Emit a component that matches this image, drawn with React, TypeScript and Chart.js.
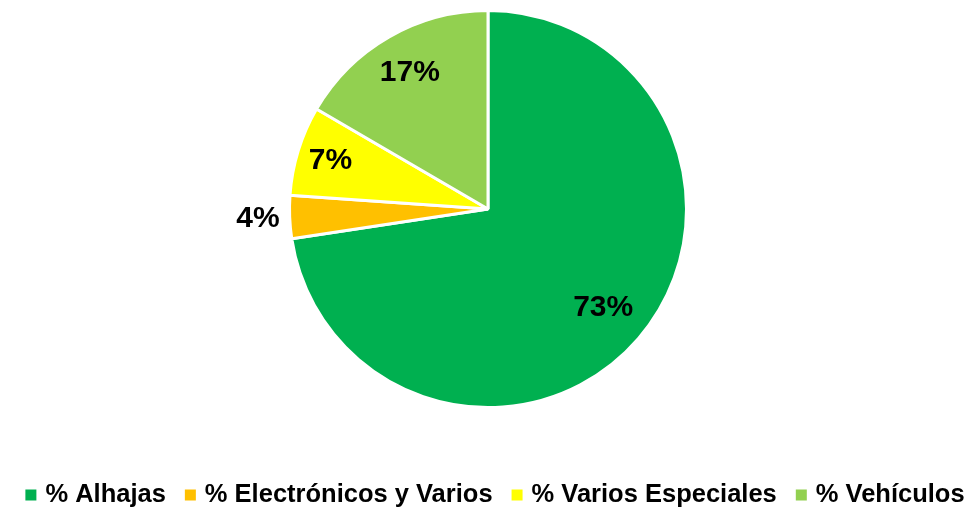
import React, { useEffect, useRef } from "react";
import { Chart, registerables } from "chart.js";

Chart.register(...registerables);

const categories = ["% Alhajas", "% Electrónicos y Varios", "% Varios Especiales", "% Vehículos"];
const values = [72.6, 3.5, 7.3, 16.6];
const colors = ["#00B050", "#FFC000", "#FFFF00", "#92D050"];
// label placement: fraction of radius (inside) or >1 for outside
const labelRadius = [0.765, 1.16, 0.83, 0.79];

const FONT = '"Liberation Sans", Arial, sans-serif';

const labelPlugin = {
  id: "sliceLabels",
  afterDatasetsDraw(chart: any) {
    const ctx = chart.ctx;
    const meta = chart.getDatasetMeta(0);
    ctx.save();
    ctx.font = `bold 30px ${FONT}`;
    ctx.fillStyle = "#000";
    ctx.textAlign = "center";
    ctx.textBaseline = "middle";
    meta.data.forEach((arc: any, i: number) => {
      const { x, y, startAngle, endAngle, outerRadius } = arc.getProps(
        ["x", "y", "startAngle", "endAngle", "outerRadius"],
        true
      );
      const mid = (startAngle + endAngle) / 2;
      const r = outerRadius * labelRadius[i];
      ctx.fillText(`${Math.round(values[i])}%`, x + Math.cos(mid) * r, y + Math.sin(mid) * r);
    });
    ctx.restore();
  },
};

const legendPlugin = {
  id: "customLegend",
  afterDraw(chart: any) {
    const ctx = chart.ctx;
    ctx.save();
    ctx.font = `bold 25.5px ${FONT}`;
    const box = 11;
    const gapText = 9;
    const gapItem = 19;
    const widths = categories.map((c) => box + gapText + ctx.measureText(c).width);
    const total = widths.reduce((a, b) => a + b, 0) + gapItem * (categories.length - 1);
    let x = (chart.width - total) / 2 + 11;
    const y = 495;
    ctx.textBaseline = "middle";
    ctx.textAlign = "left";
    categories.forEach((c, i) => {
      ctx.fillStyle = colors[i];
      ctx.fillRect(x, y - box / 2, box, box);
      ctx.fillStyle = "#000";
      ctx.fillText(c, x + box + gapText, y);
      x += widths[i] + gapItem;
    });
    ctx.restore();
  },
};

export default function App() {
  const ref = useRef<HTMLCanvasElement>(null);
  useEffect(() => {
    if (!ref.current) return;
    const chart = new Chart(ref.current, {
      type: "pie",
      data: {
        labels: categories,
        datasets: [
          {
            data: values,
            backgroundColor: colors,
            borderColor: "#FFFFFF",
            borderWidth: 3,
          },
        ],
      },
      options: {
        animation: false,
        responsive: false,
        maintainAspectRatio: false,
        layout: { padding: { top: 9, bottom: 99, left: 288, right: 280 } },
        plugins: {
          legend: { display: false },
          tooltip: { enabled: false },
        },
      },
      plugins: [labelPlugin, legendPlugin],
    });
    return () => chart.destroy();
  }, []);
  return (
    <div style={{ position: "absolute", left: 0, top: 0, width: 968, height: 508, background: "#fff" }}>
      <canvas ref={ref} width={968} height={508} style={{ width: 968, height: 508 }} />
    </div>
  );
}
